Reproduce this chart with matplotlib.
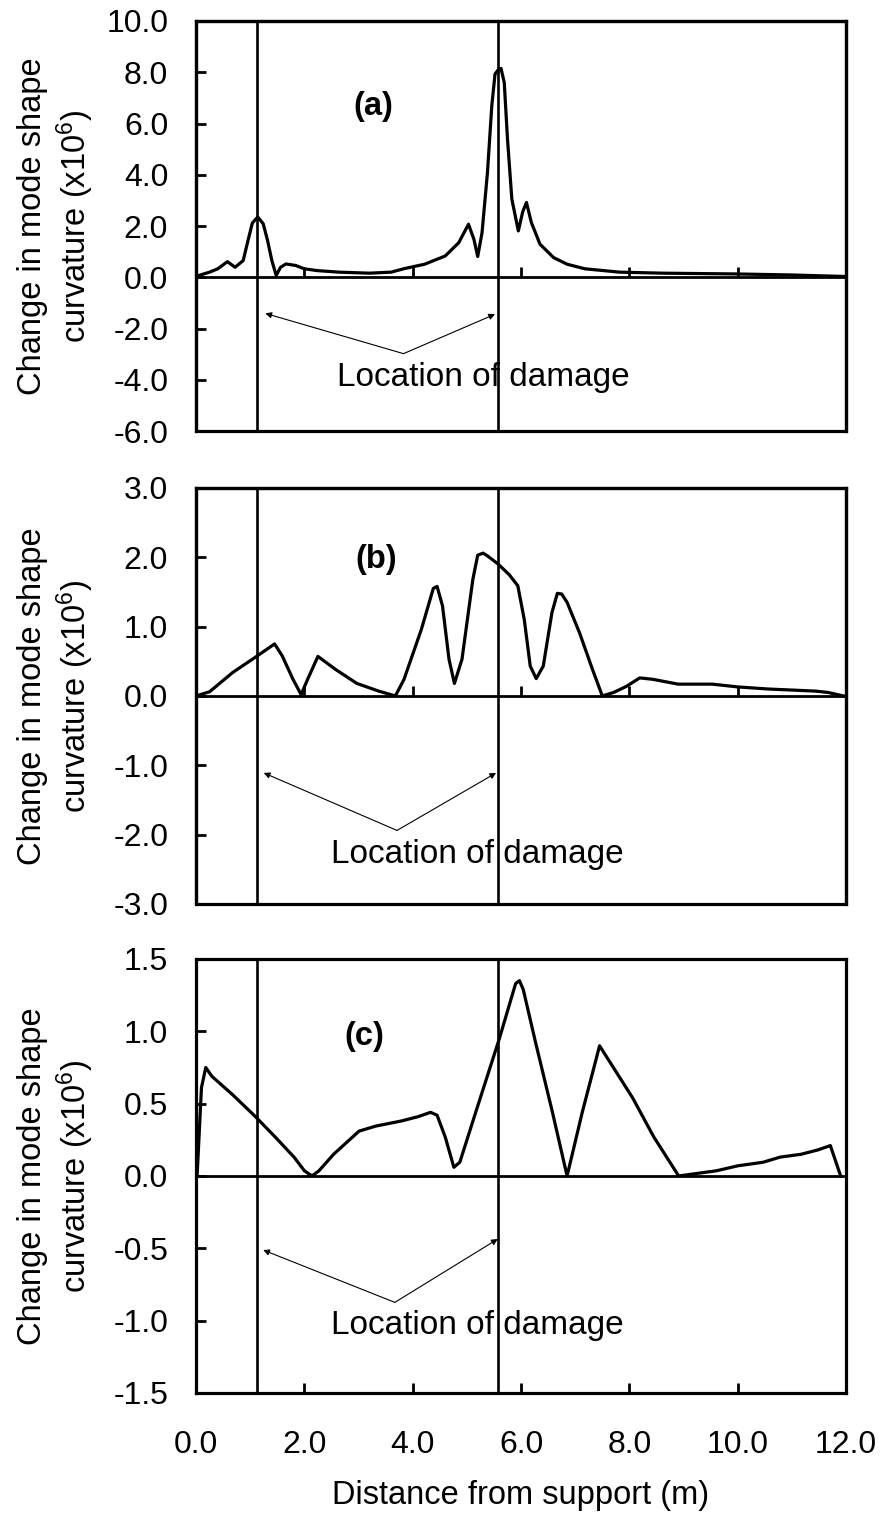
import matplotlib
matplotlib.use("Agg")
import matplotlib.pyplot as plt
from matplotlib.ticker import FormatStrFormatter, MultipleLocator

plt.rcParams['font.family'] = ['Liberation Sans', 'DejaVu Sans']
plt.rcParams['mathtext.fontset'] = 'custom'
plt.rcParams['mathtext.rm'] = 'Liberation Sans'
plt.rcParams['mathtext.it'] = 'Liberation Sans:italic'
plt.rcParams['axes.unicode_minus'] = False

# damage locations (m)
damage_x = [1.12, 5.58]

# panel (a)
xa = [0.0, 0.05, 0.25, 0.4, 0.58, 0.72, 0.87, 0.96, 1.04, 1.14, 1.24, 1.32, 1.40, 1.48,
      1.56, 1.66, 1.84, 2.0, 2.24, 2.64, 3.2, 3.6, 3.85, 4.22, 4.6, 4.85, 5.03, 5.13,
      5.2, 5.28, 5.38, 5.46, 5.52, 5.58, 5.63, 5.69, 5.75, 5.83, 5.95, 6.03, 6.1, 6.19,
      6.35, 6.6, 6.85, 7.18, 7.82, 8.62, 9.97, 11.0, 12.0]
ya = [0.0, 0.07, 0.2, 0.33, 0.61, 0.39, 0.65, 1.44, 2.12, 2.35, 2.09, 1.44, 0.65, 0.07,
      0.39, 0.52, 0.46, 0.33, 0.26, 0.2, 0.16, 0.2, 0.34, 0.51, 0.83, 1.35, 2.07, 1.48,
      0.81, 1.74, 4.09, 6.69, 7.93, 8.1, 8.15, 7.6, 5.39, 3.05, 1.81, 2.55, 2.92, 2.14,
      1.29, 0.77, 0.51, 0.33, 0.2, 0.16, 0.13, 0.09, 0.03]

# panel (b)
xb = [0.0, 0.25, 0.68, 1.08, 1.45, 1.59, 1.79, 1.94, 2.06, 2.25, 2.58, 2.97, 3.37, 3.68,
      3.84, 4.16, 4.38, 4.45, 4.55, 4.67, 4.77, 4.91, 5.11, 5.2, 5.3, 5.38, 5.58, 5.78,
      5.94, 6.06, 6.17, 6.28, 6.41, 6.57, 6.67, 6.75, 6.85, 7.08, 7.32, 7.5, 7.71, 7.95,
      8.19, 8.43, 8.9, 9.53, 10.0, 10.56, 11.43, 11.67, 11.95]
yb = [0.0, 0.06, 0.34, 0.55, 0.75, 0.58, 0.24, 0.02, 0.24, 0.57, 0.38, 0.18, 0.07, 0.0,
      0.24, 0.96, 1.55, 1.58, 1.3, 0.53, 0.18, 0.53, 1.68, 2.03, 2.06, 2.02, 1.9, 1.75,
      1.59, 1.1, 0.43, 0.25, 0.43, 1.2, 1.48, 1.47, 1.35, 0.91, 0.38, 0.0, 0.05, 0.14,
      0.26, 0.24, 0.17, 0.17, 0.13, 0.1, 0.07, 0.05, 0.0]

# panel (c)
xc = [0.02, 0.1, 0.18, 0.29, 0.68, 1.07, 1.46, 1.81, 2.0, 2.14, 2.27, 2.54, 3.01, 3.32,
      3.79, 4.1, 4.33, 4.45, 4.6, 4.76, 4.87, 5.18, 5.6, 5.9, 5.97, 6.04, 6.27, 6.58, 6.85,
      7.13, 7.45, 7.67, 8.06, 8.45, 8.91, 9.61, 10.0, 10.47, 10.78, 11.17, 11.48, 11.71,
      11.9]
yc = [0.0, 0.61, 0.75, 0.69, 0.56, 0.42, 0.27, 0.13, 0.036, 0.0, 0.036, 0.15, 0.31, 0.345,
      0.38, 0.41, 0.44, 0.42, 0.27, 0.06, 0.095, 0.46, 0.95, 1.33, 1.35, 1.29, 0.92, 0.44,
      0.0, 0.44, 0.9, 0.77, 0.54, 0.27, 0.0, 0.036, 0.07, 0.095, 0.13, 0.15, 0.18, 0.21,
      0.0]

panels = [
    dict(x=xa, y=ya, ylim=(-6, 10), step=2.0, tag='(a)', tag_xy=(3.27, 6.67),
         loc_xy=(5.31, -3.92), apex=(3.83, -2.98), tips=[(1.28, -1.41), (5.52, -1.44)],
         rect=[0.2215, 0.7166, 0.7345, 0.2696]),
    dict(x=xb, y=yb, ylim=(-3, 3), step=1.0, tag='(b)', tag_xy=(3.33, 1.97),
         loc_xy=(5.2, -2.28), apex=(3.71, -1.94), tips=[(1.25, -1.11), (5.54, -1.11)],
         rect=[0.2215, 0.4057, 0.7345, 0.2735]),
    dict(x=xc, y=yc, ylim=(-1.5, 1.5), step=0.5, tag='(c)', tag_xy=(3.11, 0.964),
         loc_xy=(5.2, -1.036), apex=(3.67, -0.874), tips=[(1.24, -0.512), (5.57, -0.436)],
         rect=[0.2215, 0.0842, 0.7345, 0.2853]),
]

fig = plt.figure(figsize=(8.85, 15.21), dpi=100)

FS = 23.5
TFS = 23
for i, p in enumerate(panels):
    ax = fig.add_axes(p['rect'])
    last = (i == len(panels) - 1)
    ax.plot(p['x'], p['y'], color='black', lw=2.3, solid_joinstyle='round', zorder=3)
    for dx in damage_x:
        ax.axvline(dx, color='black', lw=1.9, zorder=2)
    ax.set_xlim(0, 12)
    ax.set_ylim(*p['ylim'])
    for s in ax.spines.values():
        s.set_linewidth(2.3)
    ax.yaxis.set_major_locator(MultipleLocator(p['step']))
    ax.yaxis.set_major_formatter(FormatStrFormatter('%.1f'))
    ax.xaxis.set_major_locator(MultipleLocator(2.0))
    ax.xaxis.set_major_formatter(FormatStrFormatter('%.1f'))
    ax.tick_params(axis='y', direction='in', length=7, width=2.0, pad=20, labelsize=TFS)
    ax.tick_params(axis='x', direction='in', length=7, width=2.0, pad=27, labelsize=TFS)
    if last:
        ax.axhline(0, color='black', lw=2.0, zorder=2)
        ax.set_xlabel('Distance from support (m)', fontsize=FS, labelpad=14)
    else:
        # x axis sits on the zero line, box closed by the axes patch edge
        ax.spines['bottom'].set_position(('data', 0))
        ax.spines['bottom'].set_linewidth(2.0)
        ax.patch.set_edgecolor('black')
        ax.patch.set_linewidth(2.3)
        ax.tick_params(axis='x', labelbottom=False)
    ax.text(-0.215, 0.5, 'Change in mode shape\ncurvature (x10$^6$)', transform=ax.transAxes,
            rotation=90, ha='center', va='center', multialignment='center', fontsize=FS,
            linespacing=1.2)
    ax.text(*p['tag_xy'], p['tag'], fontsize=FS, fontweight='bold', ha='center', va='center')
    ax.text(*p['loc_xy'], 'Location of damage', fontsize=24, ha='center', va='center', zorder=1)
    for tip in p['tips']:
        ax.annotate('', xy=tip, xytext=p['apex'],
                    arrowprops=dict(arrowstyle='-|>', color='black', lw=0.8,
                                    mutation_scale=9, shrinkA=0, shrinkB=0))

fig.savefig('out.png', dpi=100)
